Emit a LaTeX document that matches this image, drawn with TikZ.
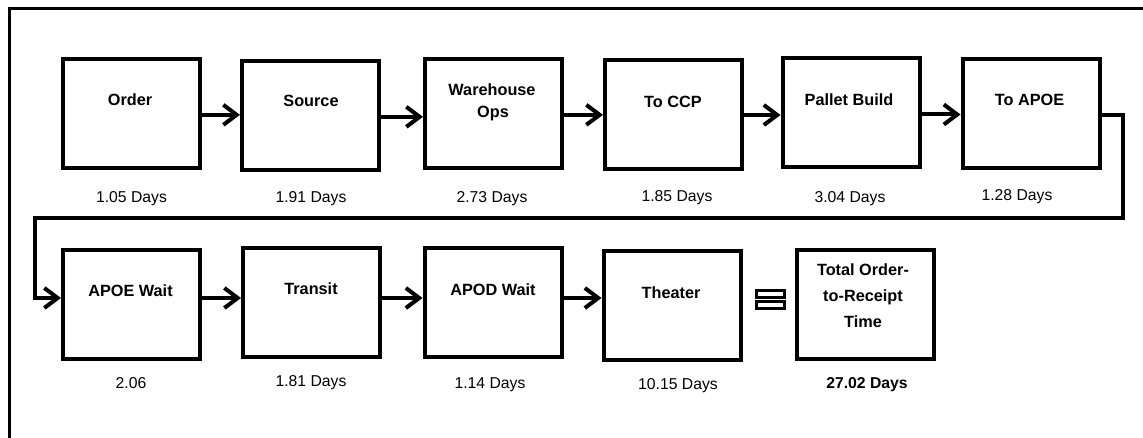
\documentclass[tikz,border=0pt]{standalone}
\usepackage{fontspec}
\setmainfont{Liberation Sans}
\usetikzlibrary{arrows.meta}
\begin{document}
\begin{tikzpicture}[x=0.75pt,y=-0.75pt,
  stepbox/.style={draw, line width=3pt, minimum width=102.75pt, minimum height=81.75pt, inner sep=0pt},
  boxtext/.style={anchor=base, inner sep=0pt, font=\fontsize{12.2}{14}\selectfont\bfseries},
  daytext/.style={anchor=base, inner sep=0pt, font=\fontsize{11.8}{14}\selectfont},
  flow/.style={line width=3pt, -{Straight Barb[length=10pt,width=15pt,line width=3pt]}},
  frameline/.style={line width=2.8pt}]
\useasboundingbox (0,0) rectangle (1143,438);
% outer frame (top and left)
\draw[frameline] (9.5,440) -- (9.5,8.5) -- (1145,8.5);
% row 1 boxes
\node[stepbox] (order) at (131.5,113.5) {};
\node[stepbox] (source) at (310.5,115.5) {};
\node[stepbox] (warehouse) at (493.5,113.5) {};
\node[stepbox] (toccp) at (673.5,115) {};
\node[stepbox] (pallet) at (851,112.5) {};
\node[stepbox] (toapoe) at (1031,114) {};
% row 2 boxes
\node[stepbox] (apoewait) at (131.5,305) {};
\node[stepbox] (transit) at (311.5,303) {};
\node[stepbox] (apodwait) at (493,303) {};
\node[stepbox] (theater) at (672,306) {};
\node[stepbox] (total) at (865,304.5) {};
% box texts
\node[boxtext] (tOrder) at (130,106) {Order};
\node[boxtext] (tSource) at (311,107) {Source};
\node[boxtext] (tWare1) at (492,96) {Warehouse};
\node[boxtext] (tWare2) at (493,118) {Ops};
\node[boxtext] (tCCP) at (673,107.5) {To CCP};
\node[boxtext] (tPallet) at (849,106) {Pallet Build};
\node[boxtext] (tAPOE) at (1029.5,106) {To APOE};
\node[boxtext] (tAPOEW) at (130.5,297) {APOE Wait};
\node[boxtext] (tTransit) at (311,295) {Transit};
\node[boxtext] (tAPODW) at (493,296) {APOD Wait};
\node[boxtext] (tTheater) at (671,299) {Theater};
\node[boxtext] (tTot1) at (863,276) {Total Order-};
\node[boxtext] (tTot2) at (863,302) {to-Receipt};
\node[boxtext] (tTot3) at (863,328) {Time};
% day labels
\node[daytext] (d1) at (131.5,203) {1.05 Days};
\node[daytext] (d2) at (311,203) {1.91 Days};
\node[daytext] (d3) at (492,203) {2.73 Days};
\node[daytext] (d4) at (677,202) {1.85 Days};
\node[daytext] (d5) at (850,203) {3.04 Days};
\node[daytext] (d6) at (1017,201) {1.28 Days};
\node[daytext] (d7) at (131,388) {2.06};
\node[daytext] (d8) at (311,387) {1.81 Days};
\node[daytext] (d9) at (490,388) {1.14 Days};
\node[daytext] (d10) at (678,390) {10.15 Days};
\node[daytext, font=\fontsize{11.8}{14}\selectfont\bfseries] (d11) at (867,388) {27.02 Days};
% row 1 arrows
\draw[flow] ([yshift=-1pt]order.east) -- ([yshift=-1pt]order.east -| source.west);
\draw[flow] ([yshift=-1pt]source.east) -- ([yshift=-1pt]source.east -| warehouse.west);
\draw[flow] ([yshift=-1pt]warehouse.east) -- ([yshift=-1pt]warehouse.east -| toccp.west);
\draw[flow] (toccp.east) -- (toccp.east -| pallet.west);
\draw[flow] ([yshift=-1.5pt]pallet.east) -- ([yshift=-1.5pt]pallet.east -| toapoe.west);
% wrap-around connector
\coordinate (wr) at (1123,218);
\coordinate (wl) at (35,218);
\draw[flow, line join=miter] ([yshift=-0.75pt]toapoe.east) -| (wr) -- (wl) |- ([yshift=5.25pt]apoewait.west);
% row 2 arrows
\draw[flow] ([yshift=5.25pt]apoewait.east) -- ([yshift=5.25pt]apoewait.east -| transit.west);
\draw[flow] ([yshift=3.75pt]transit.east) -- ([yshift=3.75pt]transit.east -| apodwait.west);
\draw[flow] ([yshift=3.75pt]apodwait.east) -- ([yshift=3.75pt]apodwait.east -| theater.west);
% equals sign
\draw[line width=2.3pt] (756.5,290.5) rectangle (784.5,297.5);
\draw[line width=2.3pt] (756.5,301.5) rectangle (784.5,308.5);
\end{tikzpicture}
\end{document}
